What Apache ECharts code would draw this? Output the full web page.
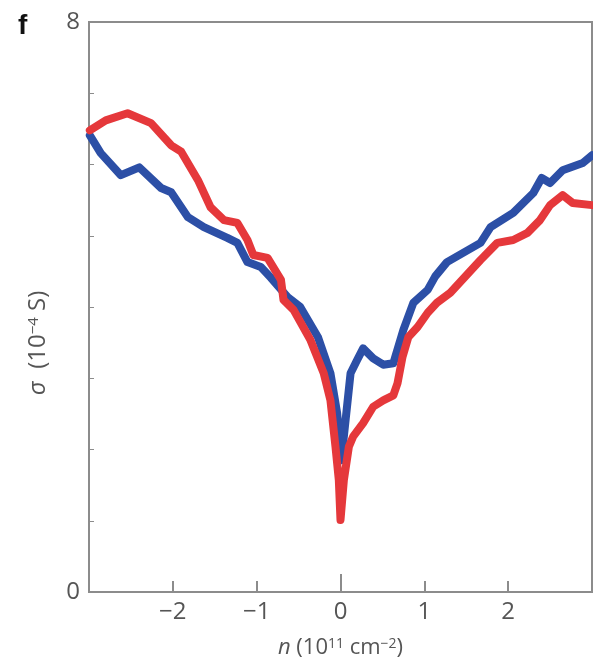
<!DOCTYPE html>
<html>
<head>
<meta charset="utf-8">
<script src="https://cdn.jsdelivr.net/npm/echarts@6/dist/echarts.min.js"></script>
<style>
  html, body { margin: 0; padding: 0; background: #fff; }
  #main { width: 593px; height: 659px; }
</style>
</head>
<body>
<div id="main"></div>
<script>
// blue trace
var blueX = [-2.99, -2.86, -2.62, -2.40, -2.14, -2.02, -1.82, -1.63, -1.35, -1.23, -1.11, -0.95, -0.83,
  -0.63, -0.48, -0.27, -0.12, -0.04, 0.01, 0.12, 0.20, 0.27, 0.39, 0.51, 0.63, 0.75, 0.87, 1.04, 1.13,
  1.27, 1.67, 1.79, 2.06, 2.30, 2.40, 2.50, 2.65, 2.89, 3.00]
var blueY = [6.41, 6.16, 5.85, 5.96, 5.67, 5.61, 5.26, 5.12, 4.97, 4.90, 4.63, 4.56, 4.41,
  4.14, 4.00, 3.58, 3.07, 2.51, 1.85, 3.07, 3.26, 3.42, 3.28, 3.19, 3.21, 3.68, 4.06, 4.24, 4.43,
  4.63, 4.90, 5.12, 5.32, 5.60, 5.81, 5.74, 5.92, 6.02, 6.13]

// red trace
var redX = [-2.99, -2.80, -2.54, -2.26, -2.02, -1.90, -1.70, -1.55, -1.39, -1.23, -1.11, -1.04, -0.87,
  -0.71, -0.68, -0.56, -0.36, -0.20, -0.12, -0.06, -0.02, 0.00, 0.04, 0.10, 0.15, 0.27, 0.39, 0.51,
  0.63, 0.68, 0.74, 0.81, 0.92, 1.04, 1.15, 1.31, 1.67, 1.87, 2.06, 2.23, 2.38, 2.50, 2.65, 2.77, 3.00]
var redY = [6.48, 6.62, 6.72, 6.58, 6.27, 6.18, 5.78, 5.40, 5.22, 5.18, 4.94, 4.73, 4.69,
  4.38, 4.10, 3.96, 3.54, 3.07, 2.69, 2.04, 1.57, 1.01, 1.57, 2.04, 2.18, 2.37, 2.60, 2.69,
  2.76, 2.93, 3.30, 3.58, 3.72, 3.92, 4.06, 4.20, 4.66, 4.90, 4.94, 5.04, 5.22, 5.43, 5.57, 5.46, 5.43]

var xTickLabels = { '-2': '\u22122', '-1': '\u22121', '0': '0', '1': '1', '2': '2' }
var yTickLabels = { '0': '0', '8': '8' }

function pairs(xs, ys) {
  return xs.map(function (x, i) { return [x, ys[i]] })
}

var chart = echarts.init(document.getElementById('main'))
var axisColor = '#8c8c8c'
var labelColor = '#555'

chart.setOption({
  animation: false,
  grid: {
    left: 89,
    right: 1,
    top: 22,
    bottom: 67,
    outerBoundsMode: 'none',
    containLabel: false,
    show: true,
    borderColor: axisColor,
    borderWidth: 2
  },
  graphic: [
    {
      type: 'text',
      left: 18,
      top: 12,
      style: { text: 'f', font: 'bold 28px "Liberation Sans", Arial', fill: '#111' }
    },
    {
      type: 'text',
      x: 38,
      y: 343,
      rotation: Math.PI / 2,
      style: {
        text: '{i|σ}  (10{s|\u22124} S)',
        align: 'center',
        verticalAlign: 'middle',
        font: '24px "Open Sans"',
        fill: labelColor,
        rich: {
          i: { fontStyle: 'italic', fontSize: 24, fill: labelColor, fontFamily: 'Open Sans' },
          s: { fontSize: 15, fill: labelColor, verticalAlign: 'top', fontFamily: 'Open Sans' }
        }
      }
    }
  ],
  xAxis: [
    {
      type: 'value',
      min: -3,
      max: 3,
      interval: 1,
      name: '{i|n} (10{s|11} cm{s|\u22122})',
      nameLocation: 'middle',
      nameGap: 45,
      nameTextStyle: {
        color: labelColor,
        fontSize: 22,
        fontFamily: 'Open Sans',
        rich: {
          i: { fontStyle: 'italic', fontSize: 22, color: labelColor, fontFamily: 'Open Sans' },
          s: { fontSize: 14, color: labelColor, verticalAlign: 'top', fontFamily: 'Open Sans' }
        }
      },
      axisLine: { lineStyle: { color: axisColor, width: 2 } },
      axisTick: { inside: true, length: 11, lineStyle: { color: axisColor, width: 2 } },
      axisLabel: {
        color: labelColor,
        fontSize: 24,
        fontFamily: 'Open Sans',
        margin: 8,
        formatter: function (v) { return xTickLabels[String(v)] || '' }
      },
      splitLine: { show: false }
    },
    {
      // longer tick at n = 0
      type: 'value',
      position: 'bottom',
      min: -3,
      max: 3,
      interval: 3,
      axisLine: { show: false },
      axisTick: { inside: true, length: 18, lineStyle: { color: axisColor, width: 2 } },
      axisLabel: { show: false },
      splitLine: { show: false }
    }
  ],
  yAxis: {
    type: 'value',
    min: 0,
    max: 8,
    interval: 1,
    axisLine: { show: true, onZero: false, lineStyle: { color: axisColor, width: 2 } },
    axisTick: { show: true, inside: true, length: 5, lineStyle: { color: axisColor, width: 1 } },
    axisLabel: {
      color: labelColor,
      fontSize: 24,
      fontFamily: 'Open Sans',
      margin: 9,
      formatter: function (v) { return yTickLabels[String(v)] || '' }
    },
    splitLine: { show: false }
  },
  series: [
    {
      name: 'blue',
      type: 'line',
      data: pairs(blueX, blueY),
      showSymbol: false,
      lineStyle: { color: '#2c4fa6', width: 8, join: 'round', cap: 'round' },
      itemStyle: { color: '#2c4fa6' },
      z: 2
    },
    {
      name: 'red',
      type: 'line',
      data: pairs(redX, redY),
      showSymbol: false,
      lineStyle: { color: '#e5383b', width: 8, join: 'round', cap: 'round' },
      itemStyle: { color: '#e5383b' },
      z: 3
    }
  ]
})
</script>
</body>
</html>
